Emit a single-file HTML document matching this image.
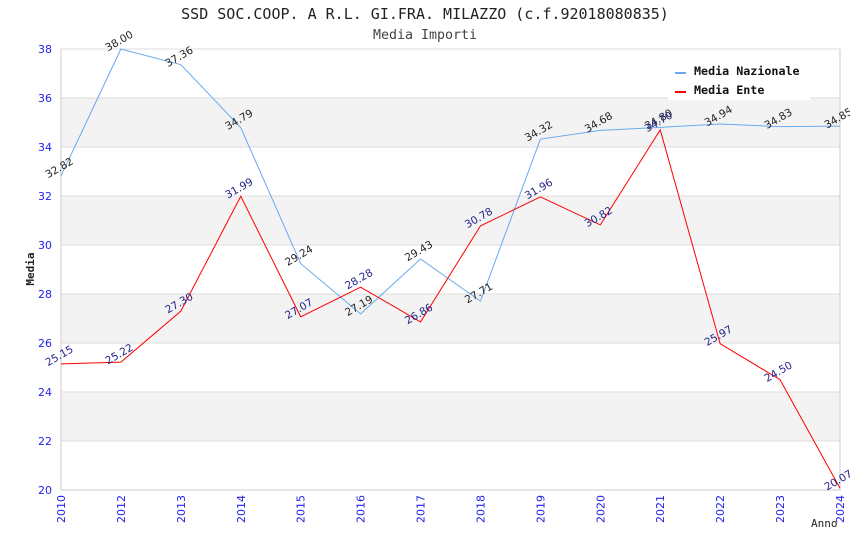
<!DOCTYPE html>
<html><head><meta charset="utf-8"><style>
body{margin:0;background:#fff;}
svg text{font-family:"DejaVu Sans","Liberation Sans",sans-serif;}
.mono{font-family:"DejaVu Sans Mono","Liberation Mono",monospace;}
</style></head><body>
<svg id="chart" width="850" height="550" xmlns="http://www.w3.org/2000/svg">
<text class="mono" x="425" y="19" text-anchor="middle" font-size="15" fill="#222">SSD SOC.COOP. A R.L. GI.FRA. MILAZZO (c.f.92018080835)</text>
<text class="mono" x="425" y="39" text-anchor="middle" font-size="13.3" fill="#444">Media Importi</text>
<g id="grid"></g>
<g id="axes"></g>
<g id="series"></g>
<text class="mono" x="34" y="269" transform="rotate(-90 34 269)" text-anchor="middle" font-size="11" font-weight="bold" fill="#222">Media</text>
<text class="mono" x="811" y="527" font-size="11" fill="#222">Anno</text>
<g>
<rect x="668" y="60" width="142" height="40" fill="#fff"/>
<g><rect x="675" y="72" width="11" height="2" fill="#66aaee"/><text class="mono" x="694" y="75" font-size="11.7" font-weight="bold" fill="#111">Media Nazionale</text></g>
<g><rect x="675" y="91" width="11" height="2" fill="#ff0000"/><text class="mono" x="694" y="94" font-size="11.7" font-weight="bold" fill="#111">Media Ente</text></g>
</g>
</svg>
<script>
const categories=["2010","2012","2013","2014","2015","2016","2017","2018","2019","2020","2021","2022","2023","2024"];
const nazionale=[32.82,38.00,37.36,34.79,29.24,27.19,29.43,27.71,34.32,34.68,34.80,34.94,34.83,34.85];
const ente=[25.15,25.22,27.30,31.99,27.07,28.28,26.86,30.78,31.96,30.82,34.70,25.97,24.50,20.07];
const yTicks=[20,22,24,26,28,30,32,34,36,38];
const L=61,R=840,T=49,B=490,ymin=20,ymax=38;
const NS="http://www.w3.org/2000/svg";
function x(i){return L+(R-L)*i/(categories.length-1);}
function y(v){return B-(v-ymin)/(ymax-ymin)*(B-T);}
function mk(tag,attrs,parent){const e=document.createElementNS(NS,tag);for(const k in attrs)e.setAttribute(k,attrs[k]);parent.appendChild(e);return e;}
const grid=document.getElementById('grid'),axes=document.getElementById('axes'),ser=document.getElementById('series');
for(let i=0;i<yTicks.length-1;i++){
  if(i%2===1){const r=mk('rect',{x:L,y:y(yTicks[i+1]),width:R-L,height:y(yTicks[i])-y(yTicks[i+1]),fill:'#f3f3f3'},grid);
  
  }
}
yTicks.forEach(t=>{
  const l=mk('line',{x1:L,x2:R,y1:y(t),y2:y(t),stroke:'#dddddd','stroke-width':1},grid);
  
  
  const tx=mk('text',{x:L-9,y:y(t)+4,'text-anchor':'end','font-size':11,fill:'#2222ee'},axes);
  tx.textContent=t;
  
  
});
const ax=mk('path',{d:`M${L},${T}V${B}H${R}V${T}`,fill:'none',stroke:'#cccccc'},axes);


categories.forEach((c,i)=>{
  const tx=mk('text',{x:x(i)+4,y:B+5,transform:`rotate(-90 ${x(i)+4} ${B+5})`,'text-anchor':'end','font-size':11,fill:'#2222ee'},axes);
  tx.textContent=c;
  
  
});
function draw(vals,color,lab,name){
  const p=mk('polyline',{points:vals.map((v,i)=>x(i)+','+y(v)).join(' '),fill:'none',stroke:color,'stroke-width':1},ser);
  
  
  vals.forEach((v,i)=>{
    const X=x(i),Y=y(v)-5;
    const t=mk('text',{x:X,y:Y,transform:`rotate(-30 ${X} ${Y})`,'text-anchor':'middle','font-size':10.5,fill:lab},ser);
    t.textContent=v.toFixed(2);
    
    
  });
}
draw(nazionale,'#66aaee','#222','nazionale');
draw(ente,'#ff0000','#222288','ente');
</script>
</body></html>
